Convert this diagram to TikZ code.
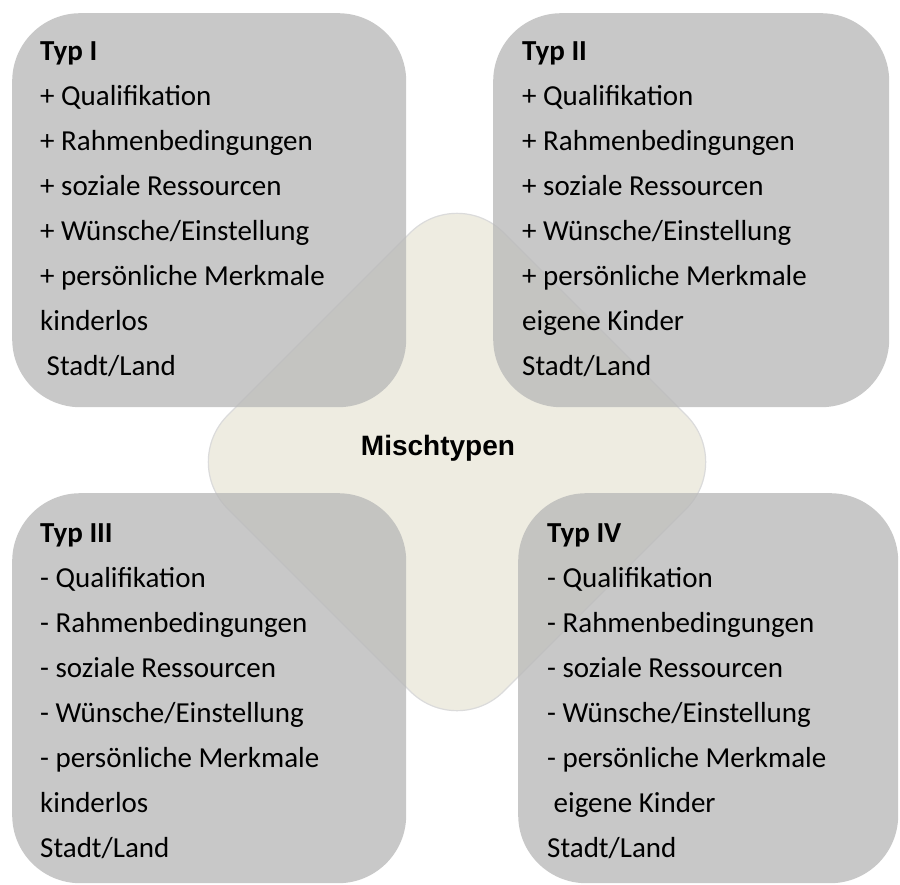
\documentclass[tikz,border=0pt]{standalone}
\usepackage{fontspec}
\setmainfont{Carlito}
\newfontfamily\arialfont{Liberation Sans}
\definecolor{beige}{RGB}{238,236,225}
\definecolor{boxgray}{RGB}{184,184,184}
\begin{document}
\begin{tikzpicture}[x=1pt,y=-1pt,
  typbox/.style={draw=none, fill=boxgray, fill opacity=0.76, rounded corners=68pt, anchor=north west, inner sep=0pt},
  txtline/.style={anchor=base west, inner sep=0pt, font=\fontsize{29}{35}\selectfont},
  headline/.style={txtline, font=\fontsize{29}{35}\selectfont\bfseries}]
\useasboundingbox (0,0) rectangle (900,884);
\fill[white] (0,0) rectangle (900,884);
% central shape
\draw[fill=beige, draw=black!14, line width=1.2pt, rounded corners=66pt]
  (181,462) -- (457,186) -- (733,462) -- (457,738) -- cycle;
\node[font=\arialfont\bfseries\fontsize{28}{34}\selectfont, anchor=base, inner sep=0pt] (misch) at (438,455) {Mischtypen};
% boxes
\node[typbox, minimum width=394pt, minimum height=394pt] (boxI) at (12,13) {};
\node[typbox, minimum width=396pt, minimum height=394pt] (boxII) at (493,13) {};
\node[typbox, minimum width=394pt, minimum height=390pt] (boxIII) at (12,493) {};
\node[typbox, minimum width=380pt, minimum height=390pt] (boxIV) at (518,493) {};
% Typ I
\node[headline] (hI) at (40,60) {Typ I};
\foreach \t [count=\i from 1] in {{+ Qualifikation},{+ Rahmenbedingungen},{+ soziale Ressourcen},{+ Wünsche/Einstellung},{+ persönliche Merkmale},{kinderlos},{\hspace{6.5pt}Stadt/Land}}
  \node[txtline] (tI-\i) at (40,{60+45*\i}) {\t};
% Typ II
\node[headline] (hII) at (522,60) {Typ II};
\foreach \t [count=\i from 1] in {{+ Qualifikation},{+ Rahmenbedingungen},{+ soziale Ressourcen},{+ Wünsche/Einstellung},{+ persönliche Merkmale},{eigene Kinder},{Stadt/Land}}
  \node[txtline] (tII-\i) at (522,{60+45*\i}) {\t};
% Typ III
\node[headline] (hIII) at (40,542) {Typ III};
\foreach \t [count=\i from 1] in {{- Qualifikation},{- Rahmenbedingungen},{- soziale Ressourcen},{- Wünsche/Einstellung},{- persönliche Merkmale},{kinderlos},{Stadt/Land}}
  \node[txtline] (tIII-\i) at (40,{542+45*\i}) {\t};
% Typ IV
\node[headline] (hIV) at (547,542) {Typ IV};
\foreach \t [count=\i from 1] in {{- Qualifikation},{- Rahmenbedingungen},{- soziale Ressourcen},{- Wünsche/Einstellung},{- persönliche Merkmale},{\hspace{6.5pt}eigene Kinder},{Stadt/Land}}
  \node[txtline] (tIV-\i) at (547,{542+45*\i}) {\t};
\end{tikzpicture}
\end{document}
